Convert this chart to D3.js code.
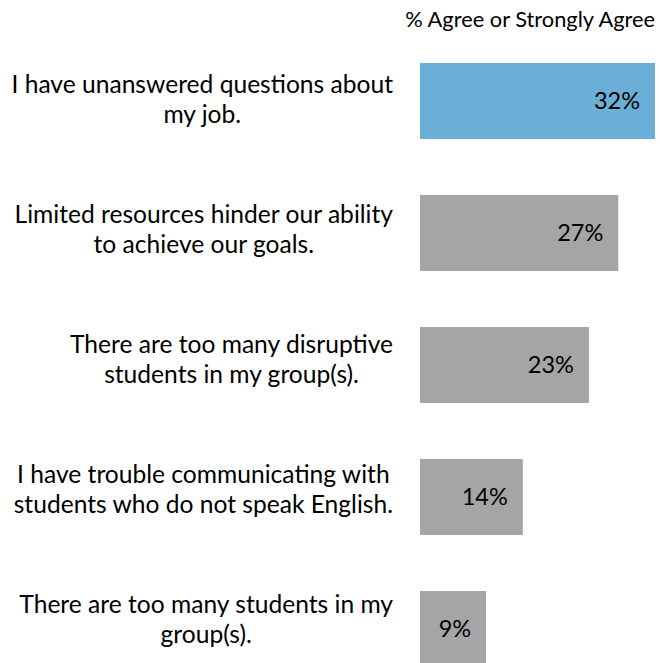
<!DOCTYPE html>
<html>
<head>
<meta charset="utf-8">
<script src="https://cdn.jsdelivr.net/npm/d3@7"></script>
<style>
  html, body { margin: 0; padding: 0; background: #fff; }
  svg { display: block; }
  text { font-family: Lato, "Open Sans", sans-serif; fill: #000; }
</style>
</head>
<body>
<svg id="chart" width="660" height="663"></svg>
<script>
// Survey statements (each split into its two display lines)
const statements = [
  ["I have unanswered questions about", "my job."],
  ["Limited resources hinder our ability", "to achieve our goals."],
  ["There are too many disruptive", "students in my group(s)."],
  ["I have trouble communicating with", "students who do not speak English."],
  ["There are too many students in my", "group(s)."]
];
// Share who agree or strongly agree, in percent
const agreePct = [32, 27, 23, 14, 9];
const highlighted = [true, false, false, false, false];
const headerLabel = "% Agree or Strongly Agree";

const svg = d3.select("#chart");
const ids = d3.range(statements.length);

const x = d3.scaleLinear().domain([0, 32]).range([420, 655]);
const y = d3.scaleBand().domain(ids).range([63, 667]).paddingInner(0.424).paddingOuter(0);
const labelY = d3.scalePoint().domain(ids).range([93, 613]);

const CAT_SIZE = 24.6, VAL_SIZE = 23.5;

// header
svg.append("text")
  .attr("x", 655).attr("y", 27)
  .attr("text-anchor", "end")
  .style("font-size", "21.8px")
  .text(headerLabel);

// bars
svg.selectAll("rect.bar")
  .data(ids)
  .join("rect")
  .attr("class", "bar")
  .attr("x", x(0))
  .attr("y", i => y(i))
  .attr("width", i => x(agreePct[i]) - x(0))
  .attr("height", y.bandwidth())
  .attr("fill", i => highlighted[i] ? "#6BAED6" : "#A5A5A5");

// value labels, inside the bar end
svg.selectAll("text.val")
  .data(ids)
  .join("text")
  .attr("class", "val")
  .attr("x", i => x(agreePct[i]) - 15)
  .attr("y", i => y(i) + y.bandwidth() / 2)
  .attr("dy", "0.36em")
  .attr("text-anchor", "end")
  .style("font-size", VAL_SIZE + "px")
  .text(i => agreePct[i] + "%");

// category labels: block right-aligned, lines centred within the block
const RIGHT = 393;
const cats = svg.selectAll("g.cat")
  .data(ids)
  .join("g")
  .attr("class", "cat");

cats.each(function(i) {
  const g = d3.select(this);
  const lines = statements[i].map((s, k) =>
    g.append("text")
      .attr("y", labelY(i) + k * 30)
      .attr("text-anchor", "middle")
      .style("font-size", CAT_SIZE + "px")
      .text(s));
  const w = d3.max(lines, t => t.node().getComputedTextLength());
  lines.forEach(t => t.attr("x", RIGHT - w / 2));
});
</script>
</body>
</html>
